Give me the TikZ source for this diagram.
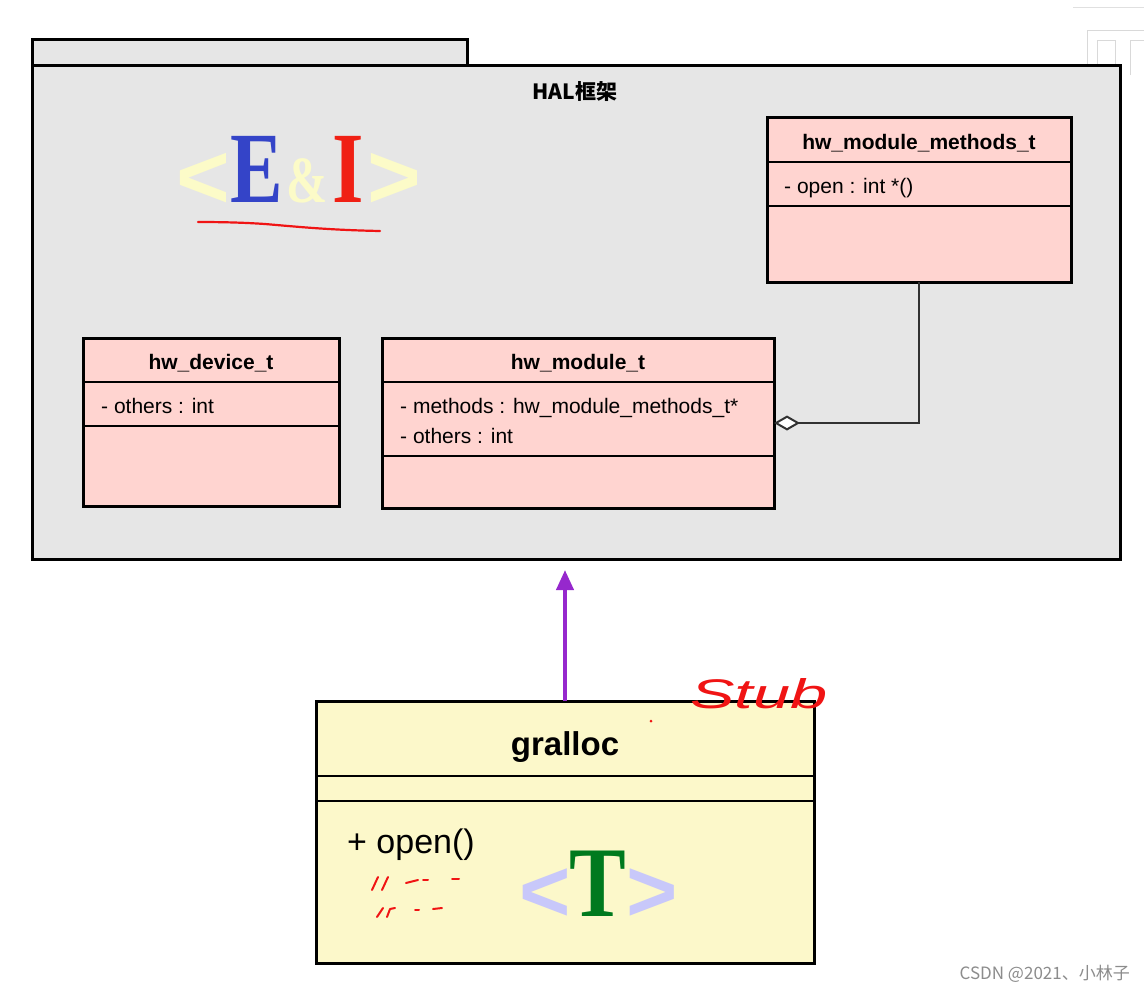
\documentclass[tikz,border=0pt]{standalone}
\usepackage{fontspec}
\setmainfont{Liberation Sans}
\newfontfamily\cjk{Noto Sans CJK SC}
\newfontfamily\logoserif{Liberation Serif}
\usetikzlibrary{arrows.meta}
\definecolor{pkggray}{RGB}{230,230,230}
\definecolor{classpink}{RGB}{255,212,208}
\definecolor{classyellow}{RGB}{252,248,202}
\definecolor{logoyellow}{RGB}{252,251,200}
\definecolor{logoblue}{RGB}{52,68,200}
\definecolor{logored}{RGB}{240,32,20}
\definecolor{logolav}{RGB}{200,200,250}
\definecolor{logogreen}{RGB}{0,122,30}
\definecolor{arrowpurple}{RGB}{150,40,205}
\definecolor{penred}{RGB}{240,20,20}
\definecolor{connector}{RGB}{50,50,50}
\definecolor{wmgray}{RGB}{140,140,140}
\tikzset{
  pkgbox/.style={draw=black, line width=3pt, fill=pkggray, anchor=north west, inner sep=0pt, outer sep=0pt},
  classbox/.style={draw=black, line width=3pt, fill=classpink, anchor=north west, inner sep=0pt, outer sep=0pt},
  stubbox/.style={classbox, fill=classyellow},
  sepline/.style={line width=2.5pt},
  ctitle/.style={font=\fontsize{21}{25}\selectfont\bfseries, anchor=base, inner sep=0pt},
  cattr/.style={font=\fontsize{21}{25}\selectfont, anchor=base west, inner sep=0pt},
  logo/.style={anchor=base, inner sep=0pt},
  pen/.style={draw=penred, line width=2pt, line cap=round, line join=round},
  assoc/.style={draw=connector, line width=2.5pt},
  realize/.style={draw=arrowpurple, line width=4pt, -{Triangle[width=17pt,length=20pt]}}
}
\begin{document}
\begin{tikzpicture}[x=1pt,y=-1pt]
\useasboundingbox[fill=white] (0,0) rectangle (1144,991);

% faint artefact top right
\draw[black!12, line width=1pt] (1073,7) -- (1144,7);
\draw[black!15, line width=1pt] (1087,75) -- (1087,30) -- (1144,30);
\draw[black!15, line width=1pt] (1097,75) -- (1097,40) -- (1115,40) -- (1115,75);
\draw[black!15, line width=1pt] (1130,75) -- (1130,40) -- (1144,40);

% package
\node[pkgbox, minimum width=435pt, minimum height=26pt] (pkgtab) at (32,39) {};
\node[pkgbox, minimum width=1088pt, minimum height=494pt] (pkg) at (32,65) {};
\node[font=\cjk\fontsize{21}{24}\selectfont\bfseries, anchor=base, inner sep=0pt] (pkgname) at (575,99) {HAL框架};

% E&I logo
\node[logo, text=logoyellow, font=\fontsize{92}{92}\selectfont\bfseries] (eiL) at (203,208) {<};
\node[logo, text=logoblue, font=\logoserif\fontsize{101}{101}\selectfont\bfseries] (eiE) at (257,202) {\scalebox{0.78}[1]{E}};
\node[logo, text=logoyellow, font=\logoserif\fontsize{66}{66}\selectfont\bfseries] (eiA) at (307,202) {\scalebox{0.75}[1]{\&}};
\node[logo, text=logored, font=\logoserif\fontsize{101}{101}\selectfont\bfseries] (eiI) at (348,202) {\scalebox{0.8}[1]{I}};
\node[logo, text=logoyellow, font=\fontsize{92}{92}\selectfont\bfseries] (eiR) at (394,208) {>};
\draw[pen, line width=2.2pt] (198,222) .. controls (230,222) and (250,223) .. (265,224) .. controls (300,227) and (330,230) .. (380,231);

% hw_module_methods_t
\node[classbox, minimum width=304pt, minimum height=165pt] (methods) at (767,117) {};
\draw[sepline] ([yshift=-45pt]methods.north west) -- ([yshift=-45pt]methods.north east);
\draw[sepline] ([yshift=-89pt]methods.north west) -- ([yshift=-89pt]methods.north east);
\node[ctitle] (methodsT) at (919,149) {hw\_module\_methods\_t};
\node[cattr] (methodsA) at (784,193) {- open : int *()};

% hw_device_t
\node[classbox, minimum width=256pt, minimum height=168pt] (device) at (83,338) {};
\draw[sepline] ([yshift=-44pt]device.north west) -- ([yshift=-44pt]device.north east);
\draw[sepline] ([yshift=-88pt]device.north west) -- ([yshift=-88pt]device.north east);
\node[ctitle] (deviceT) at (211,369) {hw\_device\_t};
\node[cattr] (deviceA) at (101,413) {- others : int};

% hw_module_t
\node[classbox, minimum width=392pt, minimum height=170pt] (module) at (382,338) {};
\draw[sepline] ([yshift=-44pt]module.north west) -- ([yshift=-44pt]module.north east);
\draw[sepline] ([yshift=-118pt]module.north west) -- ([yshift=-118pt]module.north east);
\node[ctitle] (moduleT) at (578,369) {hw\_module\_t};
\node[cattr] (moduleA1) at (400,413) {- methods : hw\_module\_methods\_t*};
\node[cattr] (moduleA2) at (400,443) {- others : int};

% aggregation
\draw[assoc, {Diamond[fill=white,length=26pt,width=15pt,line width=2pt]}-] (module.east) -| (methods.south);

% gralloc
\node[stubbox, minimum width=498pt, minimum height=262pt] (gralloc) at (316,701) {};
\draw[sepline] ([yshift=-75pt]gralloc.north west) -- ([yshift=-75pt]gralloc.north east);
\draw[sepline] ([yshift=-100pt]gralloc.north west) -- ([yshift=-100pt]gralloc.north east);
\node[font=\fontsize{33}{38}\selectfont\bfseries, anchor=base, inner sep=0pt] (grallocT) at (565,755) {gralloc};
\node[font=\fontsize{34}{40}\selectfont, anchor=base west, inner sep=0pt] (grallocM) at (347,853) {+ open()};

% T logo
\node[logo, text=logolav, font=\fontsize{88}{88}\selectfont\bfseries] (tL) at (545,921) {<};
\node[logo, text=logogreen, font=\logoserif\fontsize{100}{100}\selectfont\bfseries] (tT) at (598,916) {\scalebox{0.85}[1]{T}};
\node[logo, text=logolav, font=\fontsize{88}{88}\selectfont\bfseries] (tR) at (652,921) {>};

% realization arrow
\coordinate (arrowend) at (565,570);
\draw[realize] (gralloc.north) -- (arrowend);

% handwritten annotations
\node[text=penred, font=\fontsize{46}{46}\selectfont\itshape, anchor=base, inner sep=0pt] (stub) at (759,708) {\scalebox{1.45}[0.9]{Stub}};
\fill[penred] (651,721) circle (1.5pt);
\draw[pen] (372,890) -- (378,877);
\draw[pen] (382,890) -- (388,877);
\draw[pen] (406,883) -- (418,880);
\draw[pen] (423,880) -- (428,880);
\draw[pen] (452,879) -- (459,879);
\draw[pen] (377,917) -- (383,908);
\draw[pen] (387,917) -- (390,909) -- (395,908);
\draw[pen] (415,910) -- (419,910);
\draw[pen] (433,909) -- (442,908);

% watermark
\node[font=\cjk\fontsize{17}{20}\selectfont, text=wmgray, anchor=base east, inner sep=0pt] (wm) at (1130,979) {CSDN @2021、小林子};
\end{tikzpicture}
\end{document}
